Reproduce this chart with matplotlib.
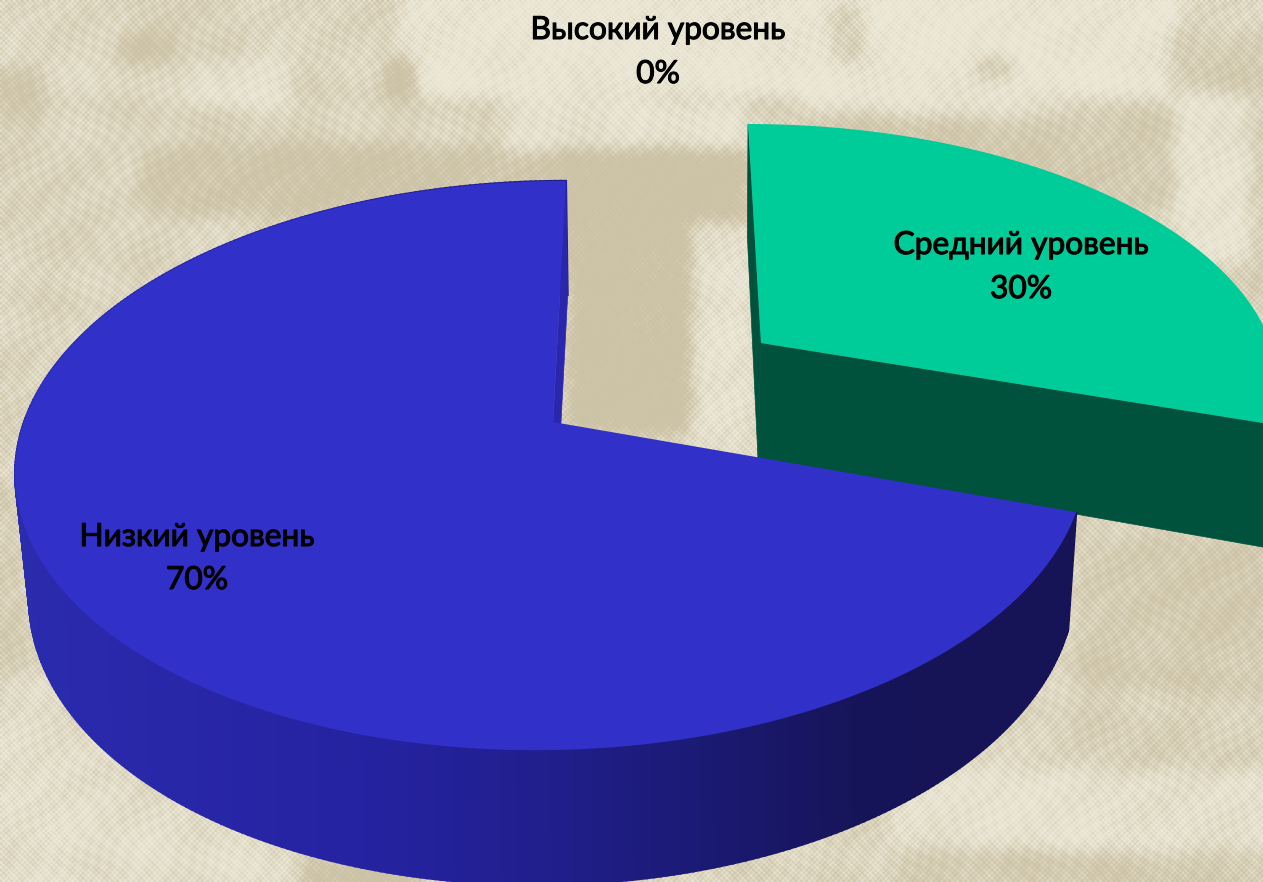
import numpy as np
import matplotlib
matplotlib.use("Agg")
import matplotlib.pyplot as plt
import matplotlib.patheffects as pe
from matplotlib.colors import LinearSegmentedColormap

# data
categories = ["Высокий уровень", "Средний уровень", "Низкий уровень"]
shares = [0, 30, 70]
percent_labels = ["0%", "30%", "70%"]

W, H = 1263, 882
plt.rcParams["font.family"] = ["Lato", "Open Sans", "DejaVu Sans"]

# paper tone of the backdrop: (x0, y0, x1, y1, tone), later ones paint over
tone_patches = [
    (0, 0, 1263, 882, 0.5),
    (400, 0, 1180, 95, 0.2),
    (800, 95, 1070, 115, 0.32),
    (800, 115, 1180, 210, 0.68),
    (1170, 30, 1263, 100, 0.62),
    (1175, 95, 1250, 260, 0.28),
    (1250, 95, 1263, 300, 0.6),
    (975, 55, 1015, 80, 0.68),
    (830, 5, 865, 60, 0.6),
    (0, 0, 130, 100, 0.45),
    (130, 0, 240, 55, 0.58),
    (190, 60, 290, 105, 0.28),
    (120, 35, 175, 60, 0.78),
    (385, 60, 415, 95, 0.95),
    (0, 65, 40, 125, 0.72),
    (140, 105, 420, 145, 0.52),
    (140, 145, 560, 215, 0.78),
    (500, 100, 745, 150, 0.3),
    (560, 150, 745, 260, 0.95),
    (570, 260, 690, 430, 0.95),
    (690, 220, 750, 460, 0.3),
    (0, 130, 140, 480, 0.5),
    (0, 480, 30, 680, 0.62),
    (0, 680, 130, 790, 0.38),
    (0, 790, 300, 882, 0.35),
    (300, 860, 420, 882, 0.9),
    (1075, 540, 1263, 690, 0.66),
    (1075, 690, 1263, 770, 0.55),
    (890, 770, 1263, 850, 0.3),
    (890, 850, 1263, 882, 0.66),
]
dark_paper = np.array([204, 194, 166]) / 255
light_paper = np.array([236, 232, 215]) / 255


def smooth(arr, n):
    kernel = np.ones(n) / n
    for axis in (0, 1):
        arr = np.apply_along_axis(lambda r: np.convolve(np.pad(r, n, mode="edge"), kernel, mode="same")[n:-n], axis, arr)
    return arr


def paper():
    yy, xx = np.mgrid[0:H, 0:W]
    tone = np.zeros((H, W))
    for x0, y0, x1, y1, t in tone_patches:
        tone[y0:y1, x0:x1] = t
    tone = smooth(smooth(tone, 21), 13)
    # uneven printing, then a halftone screen
    tone += 0.08 * np.sin(xx / 23.0 + np.sin(yy / 31.0) * 2) * np.cos(yy / 17.0 + xx / 41.0)
    tone += 0.10 * np.sin(xx * 0.37 + 3 * np.sin(yy / 13.0)) * np.sin(yy * 0.29 + 3 * np.cos(xx / 19.0))
    screen = np.cos(2 * np.pi * xx / 5.3) * np.cos(2 * np.pi * yy / 5.3)
    ink = np.clip((tone + 0.25 * screen - 0.5) * 1.7 + 0.5, 0, 1)
    ink = smooth(ink, 2)
    return light_paper + (dark_paper - light_paper) * ink[..., None]


def project(theta, disc):
    # theta is clockwise from 12 o'clock, disc seen in perspective
    cx, cy, a, b, s, k = disc
    x, y = np.sin(theta), np.cos(theta)
    w = 1 + k * y
    return cx + (a * x + s * y) / w, cy - b * y / w


def wedge_outline(t0, t1, disc):
    t = np.linspace(t0, t1, 200)
    px, py = project(t, disc)
    return np.r_[disc[0], px], np.r_[disc[1], py]


# perspective discs: centre x, centre y, half width, half height, skew, foreshortening
blue_top = (553, 422, 529, 278, 15, 0.153)
blue_low = (555, 536, 514, 285, 15, 0.183)
green_top = (761, 343, 510, 252.5, -15, 0.153)
green_low = (758, 458, 495, 271, -13, 0.225)

side_cmap = LinearSegmentedColormap.from_list(
    "side", [(0, "#2b2bae"), (0.3, "#2522a0"), (0.42, "#211f8e"), (0.55, "#1b1a75"), (0.68, "#161458"), (1, "#161454")]
)

# wedge angles from the shares, clockwise from the top
edges = np.radians(np.r_[0, np.cumsum(shares)] * 3.6)
g0, g1 = edges[1], edges[2]
b0, b1 = edges[2], edges[3]

fig = plt.figure(figsize=(W / 100, H / 100), dpi=100)
ax = fig.add_axes([0, 0, 1, 1])
ax.imshow(paper(), extent=(0, W, H, 0), interpolation="bilinear", zorder=0)
ax.set_xlim(0, W)
ax.set_ylim(H, 0)
ax.axis("off")

# medium slice, pulled out
gx, gy = project(np.array([g0, g1]), green_top)
lx, ly = project(np.array([g0, g1]), green_low)
ax.fill([gx[0], green_top[0], green_low[0], lx[0]], [gy[0], green_top[1], green_low[1], ly[0]], color="#00523d", lw=0.5, zorder=2)
ax.fill([green_top[0], gx[1], lx[1], green_low[0]], [green_top[1], gy[1], ly[1], green_low[1]], color="#00523d", lw=0.5, zorder=2)
px, py = wedge_outline(g0, g1, green_top)
ax.fill(px, py, color="#00cc99", lw=0, zorder=3)

# low slice: side wall first, shaded along the screen
t = np.linspace(b0, b1, 400)
tx, ty = project(t, blue_top)
lx, ly = project(t, blue_low)
for i in range(len(t) - 1):
    c = side_cmap((tx[i] + tx[i + 1]) / 2 / W)
    ax.fill([tx[i], tx[i + 1], lx[i + 1], lx[i]], [ty[i], ty[i + 1], ly[i + 1], ly[i]], color=c, lw=1.5, zorder=4)
cx, cy = project(np.array([b1]), blue_top)
dx, dy = project(np.array([b1]), blue_low)
ax.fill([cx[0], blue_top[0], blue_low[0], dx[0]], [cy[0], blue_top[1], blue_low[1], dy[0]], color="#2a26ae", lw=0.5, zorder=5)
px, py = wedge_outline(b0, b1, blue_top)
ax.fill(px, py, color="#3131c9", lw=0, zorder=6)

# labels
label_xy = [(658, 30, 74), (1021, 245, 289), (197, 537, 580)]
stroke = [pe.withStroke(linewidth=0.8, foreground="black")]
for name, pct, (x, y1, y2) in zip(categories, percent_labels, label_xy):
    ax.text(x, y1, name, ha="center", va="center", fontsize=22.8, color="black", zorder=8, path_effects=stroke)
    ax.text(x, y2, pct, ha="center", va="center", fontsize=22.8, color="black", zorder=8, path_effects=stroke)

fig.savefig("out.png", dpi=100)
